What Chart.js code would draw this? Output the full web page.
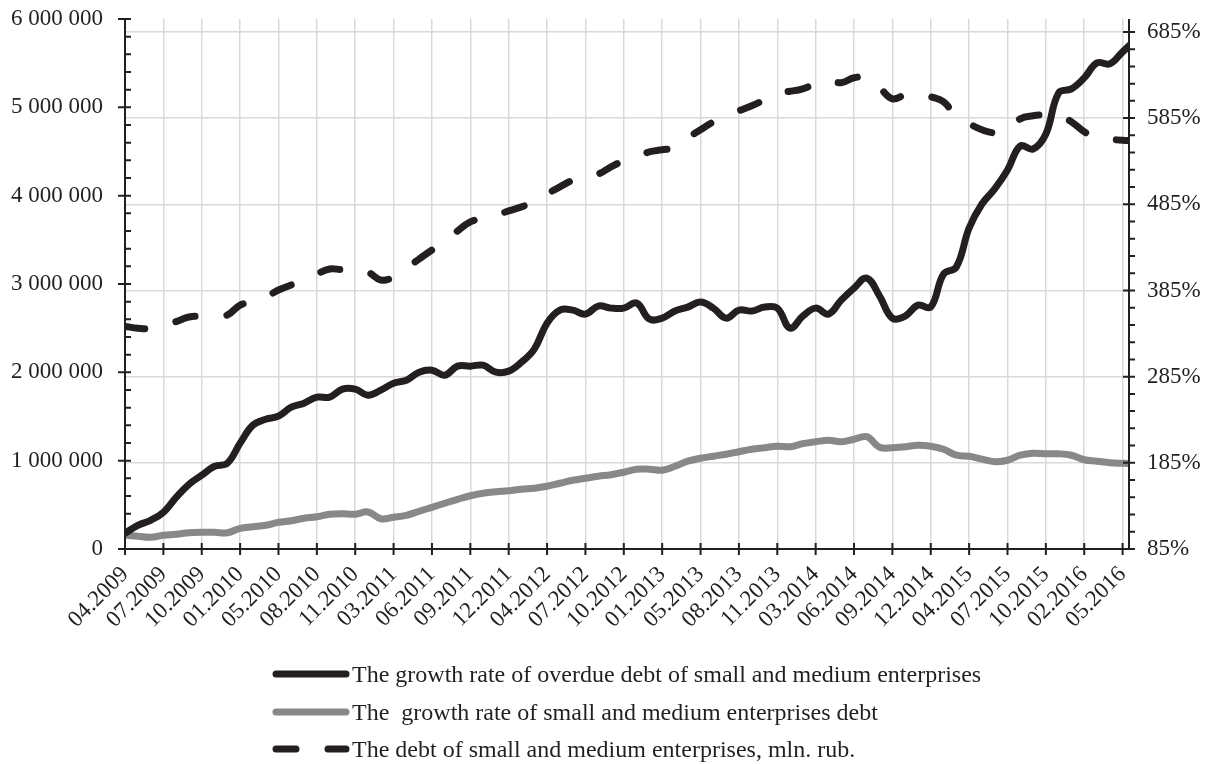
<!DOCTYPE html>
<html>
<head>
<meta charset="utf-8">
<script src="https://cdn.jsdelivr.net/npm/chart.js@4.4.1/dist/chart.umd.min.js"></script>
<style>
  html, body { margin: 0; padding: 0; background: #ffffff; }
  #wrap { width: 1210px; height: 764px; }
</style>
</head>
<body>
<div id="wrap"><canvas id="c" width="1210" height="764"></canvas></div>
<script>
// ---- data ----
const tickLabels = ["04.2009","07.2009","10.2009","01.2010","05.2010","08.2010","11.2010","03.2011","06.2011","09.2011","12.2011","04.2012","07.2012","10.2012","01.2013","05.2013","08.2013","11.2013","03.2014","06.2014","09.2014","12.2014","04.2015","07.2015","10.2015","02.2016","05.2016"];

const seriesNames = [
  "The growth rate of overdue debt of small and medium enterprises",
  "The  growth rate of small and medium enterprises debt",
  "The debt of small and medium enterprises, mln. rub."
];

// growth rate of overdue debt, % (right axis)
const overdueGrowth = [103.2,112.5,118.3,127.6,145.0,160.1,170.6,181.0,184.5,207.8,
  228.7,235.6,239.1,249.6,254.2,261.2,261.2,270.5,270.5,263.5,
  269.3,277.4,280.9,290.2,292.5,286.7,297.2,297.2,298.3,290.2,
  291.4,301.8,316.9,347.1,362.2,362.2,357.6,366.9,364.5,364.5,
  370.4,351.8,352.9,361.1,365.7,371.5,364.5,352.9,362.2,361.1,
  365.7,364.5,341.3,355.3,364.5,357.6,373.8,387.8,399.4,378.5,
  352.9,355.3,368.0,365.7,404.0,412.2,457.5,485.3,502.8,524.8,
  552.7,549.2,566.6,614.3,618.9,631.7,649.1,647.9,661.9,675.8];

// growth rate of SME debt, % (right axis)
const debtGrowth = [100.9,99.7,98.6,100.9,102.1,103.8,104.4,104.4,103.8,109.0,
  110.8,112.5,116.0,117.8,120.7,122.4,125.3,125.9,125.3,128.0,
  120.1,121.8,124.1,128.8,133.4,138.1,142.7,146.8,149.7,151.4,
  152.6,154.3,155.5,157.8,161.3,164.8,167.1,169.4,171.2,174.1,
  177.6,177.6,176.4,181.0,186.9,190.3,192.7,195.0,197.9,200.8,
  202.5,204.3,203.7,207.2,209.5,211.2,209.5,212.4,215.3,203.1,
  202.5,203.7,205.4,204.3,200.8,193.8,192.7,189.2,186.3,188.0,
  193.8,196.1,195.5,195.5,193.8,188.6,186.9,185.1,184.5,184.0];

// SME debt, mln. rub. (left axis)
const smeDebt = [2520000,2500000,2495000,2535000,2575000,2626000,2637000,2637000,2649000,2762000,
  2796000,2853000,2932000,2989000,3045000,3113000,3170000,3164000,3181000,3136000,
  3045000,3079000,3181000,3283000,3385000,3476000,3601000,3703000,3742000,3782000,
  3827000,3873000,3929000,4020000,4099000,4179000,4247000,4247000,4326000,4394000,
  4440000,4496000,4519000,4547000,4655000,4746000,4836000,4904000,4961000,5018000,
  5086000,5165000,5182000,5210000,5267000,5307000,5278000,5335000,5335000,5222000,
  5097000,5142000,5159000,5120000,5063000,4893000,4814000,4746000,4712000,4746000,
  4870000,4904000,4916000,4910000,4836000,4723000,4655000,4638000,4627000,4621000];

const pointsPerLabel = 3;
const leftTicks = [0, 1000000, 2000000, 3000000, 4000000, 5000000, 6000000];
const rightTicks = [85, 185, 285, 385, 485, 585, 685];

// ---- styling ----
const INK = '#231f20';
const GRAY = '#87888a';
const GRID = '#d9d9d9';
const FONT = "'Liberation Serif', 'Times New Roman', serif";
Chart.defaults.font.family = FONT;
Chart.defaults.font.size = 23;
Chart.defaults.color = INK;

const toXY = arr => arr.map((v, i) => ({ x: i, y: v }));
const fmtSpace = v => String(v).replace(/\B(?=(\d{3})+(?!\d))/g, ' ');
const noVPad = s => { s.paddingTop = 0; s.paddingBottom = 0; };

const axesPlugin = {
  id: 'axesPlugin',
  afterDatasetsDraw(chart) {
    const { ctx, chartArea, scales } = chart;
    const { left, right, top, bottom } = chartArea;
    const y = scales.y, y1 = scales.y1, x = scales.x;
    ctx.save();
    ctx.strokeStyle = INK;
    ctx.lineWidth = 2;
    ctx.beginPath();
    ctx.moveTo(left, top); ctx.lineTo(left, bottom + 1);
    ctx.moveTo(right, top); ctx.lineTo(right, bottom + 1);
    ctx.moveTo(left - 1, bottom); ctx.lineTo(right + 1, bottom);
    // left axis ticks
    const lmin = y.min, lmax = y.max, lstep = 1000000, lminor = 200000;
    for (let v = lmin; v <= lmax + 1; v += lminor) {
      const py = y.getPixelForValue(v);
      if (Math.abs(v % lstep) < 1) { ctx.moveTo(left - 7, py); ctx.lineTo(left + 6, py); }
      else { ctx.moveTo(left, py); ctx.lineTo(left + 6, py); }
    }
    // right axis ticks
    for (let v = 85; v <= y1.max + 0.01; v += 20) {
      const py = y1.getPixelForValue(v);
      if (Math.abs((v - 85) % 100) < 0.01) { ctx.moveTo(right - 6, py); ctx.lineTo(right + 6, py); }
      else { ctx.moveTo(right, py); ctx.lineTo(right + 6, py); }
    }
    // x ticks
    x.ticks.forEach(t => {
      const px = x.getPixelForValue(t.value);
      ctx.moveTo(px, bottom - 6); ctx.lineTo(px, bottom + 6);
    });
    ctx.stroke();
    ctx.restore();
  }
};

const legendPlugin = {
  id: 'legendPlugin',
  afterDraw(chart) {
    const { ctx } = chart;
    const x0 = 276, x1 = 346, tx = 352;
    const rows = [674, 712, 749];
    ctx.save();
    chart.data.datasets.forEach((ds, i) => {
      const ly = rows[i];
      ctx.beginPath();
      ctx.strokeStyle = ds.borderColor;
      ctx.lineWidth = ds.borderWidth;
      ctx.lineCap = 'round';
      ctx.setLineDash(ds.borderDash || []);
      ctx.moveTo(x0, ly); ctx.lineTo(x1, ly);
      ctx.stroke();
      ctx.setLineDash([]);
      ctx.fillStyle = INK;
      ctx.font = "24px " + FONT;
      ctx.textBaseline = 'alphabetic';
      ctx.textAlign = 'left';
      ctx.fillText(ds.label, tx, ly + 8);
    });
    ctx.restore();
  }
};

new Chart(document.getElementById('c'), {
  type: 'line',
  data: {
    datasets: [
      { label: seriesNames[0], data: toXY(overdueGrowth), yAxisID: 'y1',
        borderColor: INK, borderWidth: 7, tension: 0.4, pointRadius: 0,
        borderCapStyle: 'round', borderJoinStyle: 'round', fill: false,
        clip: { left: 0, right: 0, top: 10, bottom: 10 } },
      { label: seriesNames[1], data: toXY(debtGrowth), yAxisID: 'y1',
        borderColor: GRAY, borderWidth: 7, tension: 0.4, pointRadius: 0,
        borderCapStyle: 'round', borderJoinStyle: 'round', fill: false,
        clip: { left: 0, right: 0, top: 10, bottom: 10 } },
      { label: seriesNames[2], data: toXY(smeDebt), yAxisID: 'y',
        borderColor: INK, borderWidth: 7, tension: 0.4, pointRadius: 0,
        borderDash: [20, 32], borderCapStyle: 'round', borderJoinStyle: 'round', fill: false,
        clip: { left: 0, right: 0, top: 10, bottom: 10 } }
    ]
  },
  options: {
    responsive: false,
    animation: false,
    devicePixelRatio: 1,
    events: [],
    layout: { padding: { top: 19, left: 0, right: 0, bottom: 0 } },
    plugins: { legend: { display: false }, tooltip: { enabled: false } },
    scales: {
      x: {
        type: 'linear',
        min: 0,
        max: (tickLabels.length - 1) * pointsPerLabel + 0.5,
        afterBuildTicks: s => { s.ticks = tickLabels.map((_, k) => ({ value: k * pointsPerLabel })); },
        afterFit: s => { s.height = 215; s.paddingLeft = 0; s.paddingRight = 0; },
        ticks: {
          autoSkip: false, maxRotation: 45, minRotation: 45, padding: 12,
          callback: v => tickLabels[Math.round(v / pointsPerLabel)] ?? ''
        },
        grid: { color: GRID, lineWidth: 1.5, drawTicks: false },
        border: { display: false }
      },
      y: {
        position: 'left',
        min: 0, max: 6000000,
        afterBuildTicks: s => { s.ticks = leftTicks.map(v => ({ value: v })); },
        afterFit: s => { s.width = 125; noVPad(s); },
        ticks: { padding: 22, callback: v => fmtSpace(v) },
        grid: { drawOnChartArea: false, drawTicks: false },
        border: { display: false }
      },
      y1: {
        position: 'right',
        min: 85, max: 700,
        afterBuildTicks: s => { s.ticks = rightTicks.map(v => ({ value: v })); },
        afterFit: s => { s.width = 81; noVPad(s); },
        ticks: { padding: 18, callback: v => v + '%' },
        grid: { color: GRID, lineWidth: 1.5, drawTicks: false },
        border: { display: false }
      }
    }
  },
  plugins: [axesPlugin, legendPlugin]
});
</script>
</body>
</html>
